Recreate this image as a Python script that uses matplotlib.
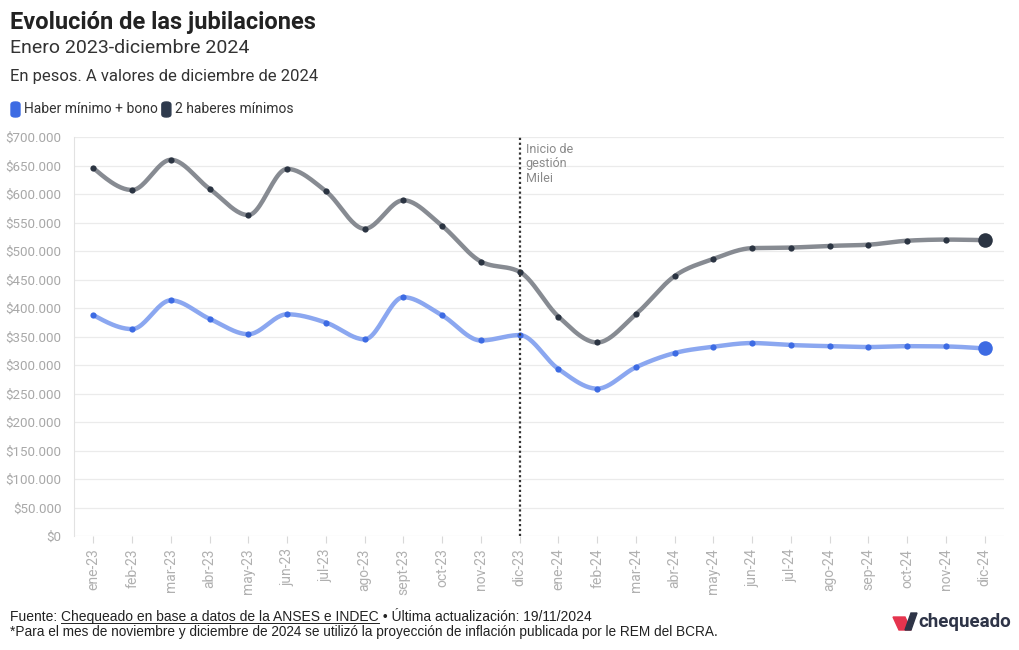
import numpy as np
import matplotlib
matplotlib.use("Agg")
import matplotlib.pyplot as plt
from matplotlib.patches import FancyBboxPatch, Polygon

meses = ["ene-23", "feb-23", "mar-23", "abr-23", "may-23", "jun-23", "jul-23",
         "ago-23", "sept-23", "oct-23", "nov-23", "dic-23", "ene-24", "feb-24",
         "mar-24", "abr-24", "may-24", "jun-24", "jul-24", "ago-24", "sep-24",
         "oct-24", "nov-24", "dic-24"]
haber_bono = [387500, 363000, 413500, 381000, 354000, 389000, 374500, 345000,
              419000, 387000, 343000, 352500, 293000, 258500, 296000, 321000,
              332000, 338500, 335000, 333000, 331500, 333000, 332500, 329000]
dos_haberes = [645500, 607000, 660000, 609000, 563000, 644000, 605000, 539000,
               589000, 544000, 481500, 463500, 385000, 339500, 389000, 456000,
               486000, 505000, 506000, 509000, 511000, 518000, 520000, 519000]
y_ticks = [0, 50000, 100000, 150000, 200000, 250000, 300000, 350000,
           400000, 450000, 500000, 550000, 600000, 650000, 700000]
mes_milei = "dic-23"

HEAD = ["Roboto", "DejaVu Sans"]
BODY = ["Liberation Sans", "DejaVu Sans"]


def monotone_curve(y, steps=24):
    # same idea as d3.curveMonotoneX, x spacing is 1
    y = np.asarray(y, float)
    s = np.diff(y)
    t = np.zeros(len(y))
    for i in range(1, len(y) - 1):
        s0, s1 = s[i - 1], s[i]
        p = (s0 + s1) / 2
        t[i] = (np.sign(s0) + np.sign(s1)) * min(abs(s0), abs(s1), 0.5 * abs(p))
    t[0] = (3 * s[0] - t[1]) / 2
    t[-1] = (3 * s[-1] - t[-2]) / 2
    xs, ys = [], []
    u = np.linspace(0, 1, steps, endpoint=False)
    for i in range(len(y) - 1):
        h00 = 2 * u**3 - 3 * u**2 + 1
        h10 = u**3 - 2 * u**2 + u
        h01 = -2 * u**3 + 3 * u**2
        h11 = u**3 - u**2
        xs.append(i + u)
        ys.append(h00 * y[i] + h10 * t[i] + h01 * y[i + 1] + h11 * t[i + 1])
    xs.append([len(y) - 1])
    ys.append([y[-1]])
    return np.concatenate(xs), np.concatenate(ys)


def fx(px):
    return px / 1020


def fy(py):
    return 1 - py / 650


fig = plt.figure(figsize=(10.2, 6.5), dpi=100)
ax = fig.add_axes([fx(74), fy(536), fx(1004) - fx(74), fy(137) - fy(536)])

x = np.arange(len(meses))
series = [
    (dos_haberes, "#878b92", "#2b3442"),
    (haber_bono, "#8ba7f0", "#3d6be3"),
]
for vals, line_c, dot_c in series:
    cx, cy = monotone_curve(vals)
    ax.plot(cx, cy, color=line_c, lw=3.2, solid_capstyle="round", zorder=3)
    ax.scatter(x[:-1], vals[:-1], s=20, color=dot_c, zorder=4, linewidths=0)
    ax.scatter(x[-1:], vals[-1:], s=110, color=dot_c, zorder=4, linewidths=0)

xm = meses.index(mes_milei)
ax.axvline(xm, color="#333333", lw=1.6, ls=(0, (1, 1.2)), zorder=5)
ax.text(xm + 0.16, 690000, "Inicio de\ngestión\nMilei", fontsize=9, color="#8a8a8a",
        va="top", ha="left", family=HEAD, linespacing=1.15)

ax.set_xlim(-0.5, len(meses) - 0.5)
ax.set_ylim(0, 700000)
ax.set_yticks(y_ticks)
ax.set_yticklabels(["$" + f"{v:,}".replace(",", ".") for v in y_ticks],
                   fontsize=9.6, color="#a8a8a8", family=HEAD)
ax.set_xticks(x)
ax.set_xticklabels(meses, rotation=90, fontsize=10, color="#b0b0b0", family=HEAD)
ax.tick_params(axis="y", length=0, pad=9)
ax.tick_params(axis="x", length=5, color="#d8d8d8", pad=4)
ax.grid(axis="y", color="#ebebeb", lw=0.9)
ax.set_axisbelow(True)
for side in ["top", "right", "bottom"]:
    ax.spines[side].set_visible(False)
ax.spines["left"].set_color("#e2e2e2")

# encabezado
fig.text(fx(10), fy(22), "Evolución de las jubilaciones", fontsize=17, fontweight="bold",
         color="#222222", family=HEAD, va="center")
fig.text(fx(10), fy(48), "Enero 2023-diciembre 2024", fontsize=14, color="#333333",
         family=HEAD, va="center")
fig.text(fx(10), fy(77), "En pesos. A valores de diciembre de 2024", fontsize=12,
         color="#333333", family=HEAD, va="center")

fig.canvas.draw()
r = fig.canvas.get_renderer()

# leyenda
px = 11
for col, label in [("#3d6be3", "Haber mínimo + bono"), ("#2e3a4d", "2 haberes mínimos")]:
    fig.patches.append(FancyBboxPatch((fx(px), fy(117)), fx(9), fy(102) - fy(117),
                                      boxstyle="round,pad=0,rounding_size=0.004",
                                      transform=fig.transFigure, color=col))
    t = fig.text(fx(px + 13), fy(109), label, fontsize=10, color="#333333",
                 family=HEAD, va="center")
    px = t.get_window_extent(r).x1 + 4

# pie
t1 = fig.text(fx(10), fy(617), "Fuente: ", fontsize=10, color="#222222",
              family=BODY, va="center")
bb = t1.get_window_extent(r)
t2 = fig.text(bb.x1 / 1020, fy(617), "Chequeado en base a datos de la ANSES e INDEC",
              fontsize=10, color="#222222", family=BODY, va="center")
bb2 = t2.get_window_extent(r)
fig.add_artist(plt.Line2D([bb2.x0 / 1020, bb2.x1 / 1020], [fy(623), fy(623)],
                          transform=fig.transFigure, color="#222222", lw=0.7))
fig.text(bb2.x1 / 1020, fy(617), " • Última actualización: 19/11/2024", fontsize=10,
         color="#222222", family=BODY, va="center")
fig.text(fx(10), fy(632), "*Para el mes de noviembre y diciembre de 2024 se utilizó la "
         "proyección de inflación publicada por le REM del BCRA.", fontsize=9.85,
         color="#222222", family=BODY, va="center")

# logo chequeado
fig.patches.append(Polygon([(fx(893), fy(617)), (fx(905), fy(617)), (fx(911), fy(630)),
                            (fx(899), fy(630))], closed=True,
                           transform=fig.transFigure, color="#e5344e"))
fig.patches.append(Polygon([(fx(905), fy(630)), (fx(911), fy(630)), (fx(917), fy(613)),
                            (fx(911), fy(613))], closed=True,
                           transform=fig.transFigure, color="#2e3447"))
fig.text(fx(918), fy(622), "chequeado", fontsize=13.5, fontweight="bold",
         color="#2e3447", family=HEAD, va="center")

fig.savefig("out.png", dpi=100)
